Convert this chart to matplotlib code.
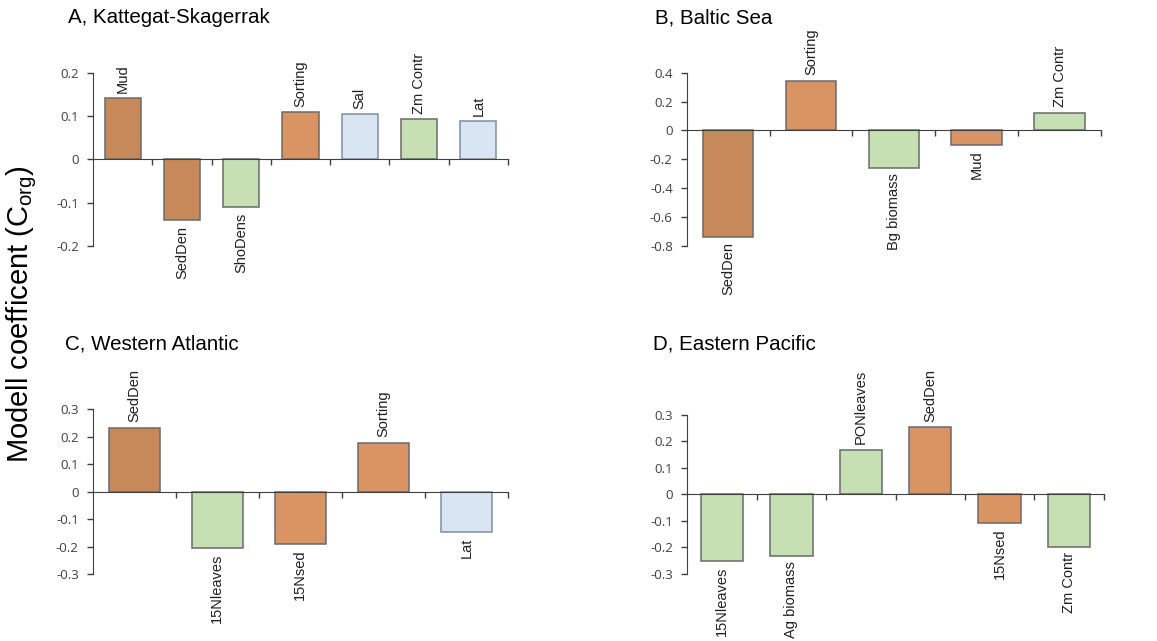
import matplotlib
matplotlib.use('Agg')
import matplotlib.pyplot as plt

plt.rcParams['font.family'] = ['Liberation Sans', 'DejaVu Sans']
plt.rcParams['mathtext.fontset'] = 'custom'
plt.rcParams['mathtext.rm'] = 'Liberation Sans'

# panel data
a_labels = ['Mud', 'SedDen', 'ShoDens', 'Sorting', 'Sal', 'Zm Contr', 'Lat']
a_values = [0.141, -0.141, -0.111, 0.109, 0.104, 0.092, 0.088]
a_ticks = [-0.2, -0.1, 0, 0.1, 0.2]

b_labels = ['SedDen', 'Sorting', 'Bg biomass', 'Mud', 'Zm Contr']
b_values = [-0.735, 0.345, -0.259, -0.10, 0.124]
b_ticks = [-0.8, -0.6, -0.4, -0.2, 0, 0.2, 0.4]

c_labels = ['SedDen', '15Nleaves', '15Nsed', 'Sorting', 'Lat']
c_values = [0.232, -0.205, -0.189, 0.177, -0.147]
c_ticks = [-0.3, -0.2, -0.1, 0, 0.1, 0.2, 0.3]

d_labels = ['15Nleaves', 'Ag biomass', 'PONleaves', 'SedDen', '15Nsed', 'Zm Contr']
d_values = [-0.251, -0.231, 0.167, 0.253, -0.106, -0.197]
d_ticks = [-0.3, -0.2, -0.1, 0, 0.1, 0.2, 0.3]

# colour groups: sediment brown / orange, plant green, site blue
brown, orange, green, blue = '#C8895A', '#DA9464', '#C6E0B4', '#D9E5F3'
a_colors = [brown, brown, green, orange, blue, green, blue]
b_colors = [brown, orange, green, orange, green]
c_colors = [brown, green, orange, orange, blue]
d_colors = [green, green, green, orange, orange, green]

fig = plt.figure(figsize=(11.57, 6.41), dpi=100)


def panel(rect, title, title_xy, labels, values, colors, ticks):
    ax = fig.add_axes(rect)
    n = len(values)
    edges = ['#8090A0' if c == blue else '#6A6A6A' for c in colors]
    ax.bar(range(n), values, width=0.61, color=colors, edgecolor=edges, linewidth=1.1, zorder=2)
    ax.set_xlim(-0.5, n - 0.5)
    ax.set_ylim(ticks[0], ticks[-1])
    ax.set_yticks(ticks)
    ax.set_yticklabels(['0' if t == 0 else f'{t:g}' for t in ticks],
                       family=['Open Sans', 'DejaVu Sans'], fontsize=9.5, color='#404040')
    ax.tick_params(axis='y', direction='out', length=4, width=1, color='#404040', pad=6)
    # zero line with category separator ticks
    ax.spines['bottom'].set_position(('data', 0))
    ax.spines['bottom'].set_color('#404040')
    ax.spines['bottom'].set_zorder(3)
    ax.set_xticks([i + 0.5 for i in range(n)])
    ax.set_xticklabels([])
    ax.tick_params(axis='x', direction='out', length=4, width=1, color='#404040')
    ax.spines['left'].set_color('#404040')
    ax.spines['top'].set_visible(False)
    ax.spines['right'].set_visible(False)
    for i, (lab, v) in enumerate(zip(labels, values)):
        off = 4 if v > 0 else -4
        ax.annotate(lab, (i, v), xytext=(0, off), textcoords='offset points',
                    rotation=90, ha='center', va='bottom' if v > 0 else 'top',
                    fontsize=10.5, color='#202020')
    fig.text(title_xy[0], title_xy[1], title, fontsize=14.8, va='center', ha='left')
    return ax


panel([0.0804, 0.6162, 0.3586, 0.2704], 'A, Kattegat-Skagerrak', (0.059, 0.972),
      a_labels, a_values, a_colors, a_ticks)
panel([0.5935, 0.6162, 0.3581, 0.2704], 'B, Baltic Sea', (0.566, 0.972),
      b_labels, b_values, b_colors, b_ticks)
panel([0.0801, 0.1045, 0.3589, 0.2570], 'C, Western Atlantic', (0.056, 0.463),
      c_labels, c_values, c_colors, c_ticks)
panel([0.594, 0.1045, 0.360, 0.2485], 'D, Eastern Pacific', (0.564, 0.463),
      d_labels, d_values, d_colors, d_ticks)

fig.text(0.019, 0.51, r'Modell coefficent (C$_{\mathrm{org}}$)', rotation=90,
         fontsize=21, va='center', ha='center')

fig.savefig('out.png', dpi=100)
